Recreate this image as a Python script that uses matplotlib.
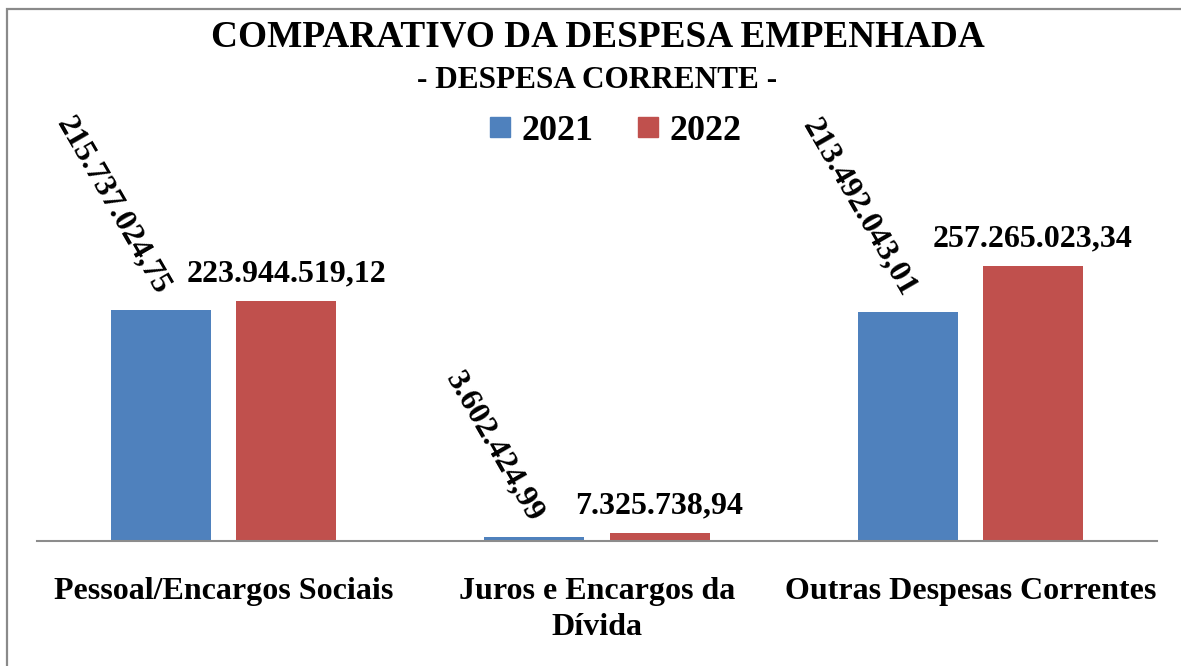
import matplotlib
matplotlib.use("Agg")
import matplotlib.pyplot as plt
from matplotlib.patches import Rectangle
from matplotlib.lines import Line2D

plt.rcParams['font.family'] = ['Liberation Serif', 'DejaVu Serif']
plt.rcParams['font.weight'] = 'bold'

categories = ["Pessoal/Encargos Sociais", "Juros e Encargos da\nDívida", "Outras Despesas Correntes"]
years = ["2021", "2022"]
values_2021 = [215737024.75, 3602424.99, 213492043.01]
values_2022 = [223944519.12, 7325738.94, 257265023.34]
colors = ["#4F81BD", "#C0504D"]

def fmt(v):
    s = f"{v:,.2f}"
    return s.replace(",", "X").replace(".", ",").replace("X", ".")

W, H = 1181, 666
fig = plt.figure(figsize=(W / 100, H / 100), dpi=100)
ax = fig.add_axes([37 / W, (H - 541) / H, 1120 / W, 441 / H])

x = list(range(len(categories)))
bw = 0.268
off = 0.1675
ax.bar([i - off for i in x], values_2021, bw, color=colors[0])
ax.bar([i + off for i in x], values_2022, bw, color=colors[1])

ax.set_xlim(-0.5, 2.5)
ax.set_ylim(0, 412e6)
for s in ["top", "right", "left"]:
    ax.spines[s].set_visible(False)
ax.spines["bottom"].set_color("#8C8C8C")
ax.spines["bottom"].set_linewidth(1.5)
ax.set_yticks([])
ax.set_xticks(x)
ax.set_xticklabels(categories, fontsize=23, fontweight='bold', linespacing=1.3)
ax.tick_params(axis='x', length=0, pad=26)

for i, v in enumerate(values_2021):
    ax.annotate(fmt(v), (i - off, v), xytext=(1, 13), textcoords='offset points',
                rotation=-60, rotation_mode='anchor', ha='right', va='center',
                fontsize=23, fontweight='bold')
for i, v in enumerate(values_2022):
    ax.annotate(fmt(v), (i + off, v), xytext=(0, 9), textcoords='offset points',
                ha='center', va='bottom', fontsize=23, fontweight='bold')

fig.text(598 / W, 1 - 37 / H, "COMPARATIVO DA DESPESA EMPENHADA", ha='center', va='center',
         fontsize=26.8, fontweight='bold')
fig.text(597 / W, 1 - 80 / H, "- DESPESA CORRENTE -", ha='center', va='center',
         fontsize=22.5, fontweight='bold')

handles = [Line2D([], [], marker='s', linestyle='none', markersize=14, color=c) for c in colors]
fig.legend(handles, years, loc='center', bbox_to_anchor=(612 / W, 1 - 131 / H), ncol=2,
           frameon=False, prop={'size': 26, 'weight': 'bold'}, handletextpad=0.1,
           columnspacing=1.0, handlelength=1.0)

fig.patches.append(Rectangle((6.5 / W, -0.1), 1.5, (H - 8.5) / H + 0.1, transform=fig.transFigure,
                             fill=False, edgecolor="#8A8A8A", linewidth=1.6))

fig.savefig("out.png", dpi=100)
